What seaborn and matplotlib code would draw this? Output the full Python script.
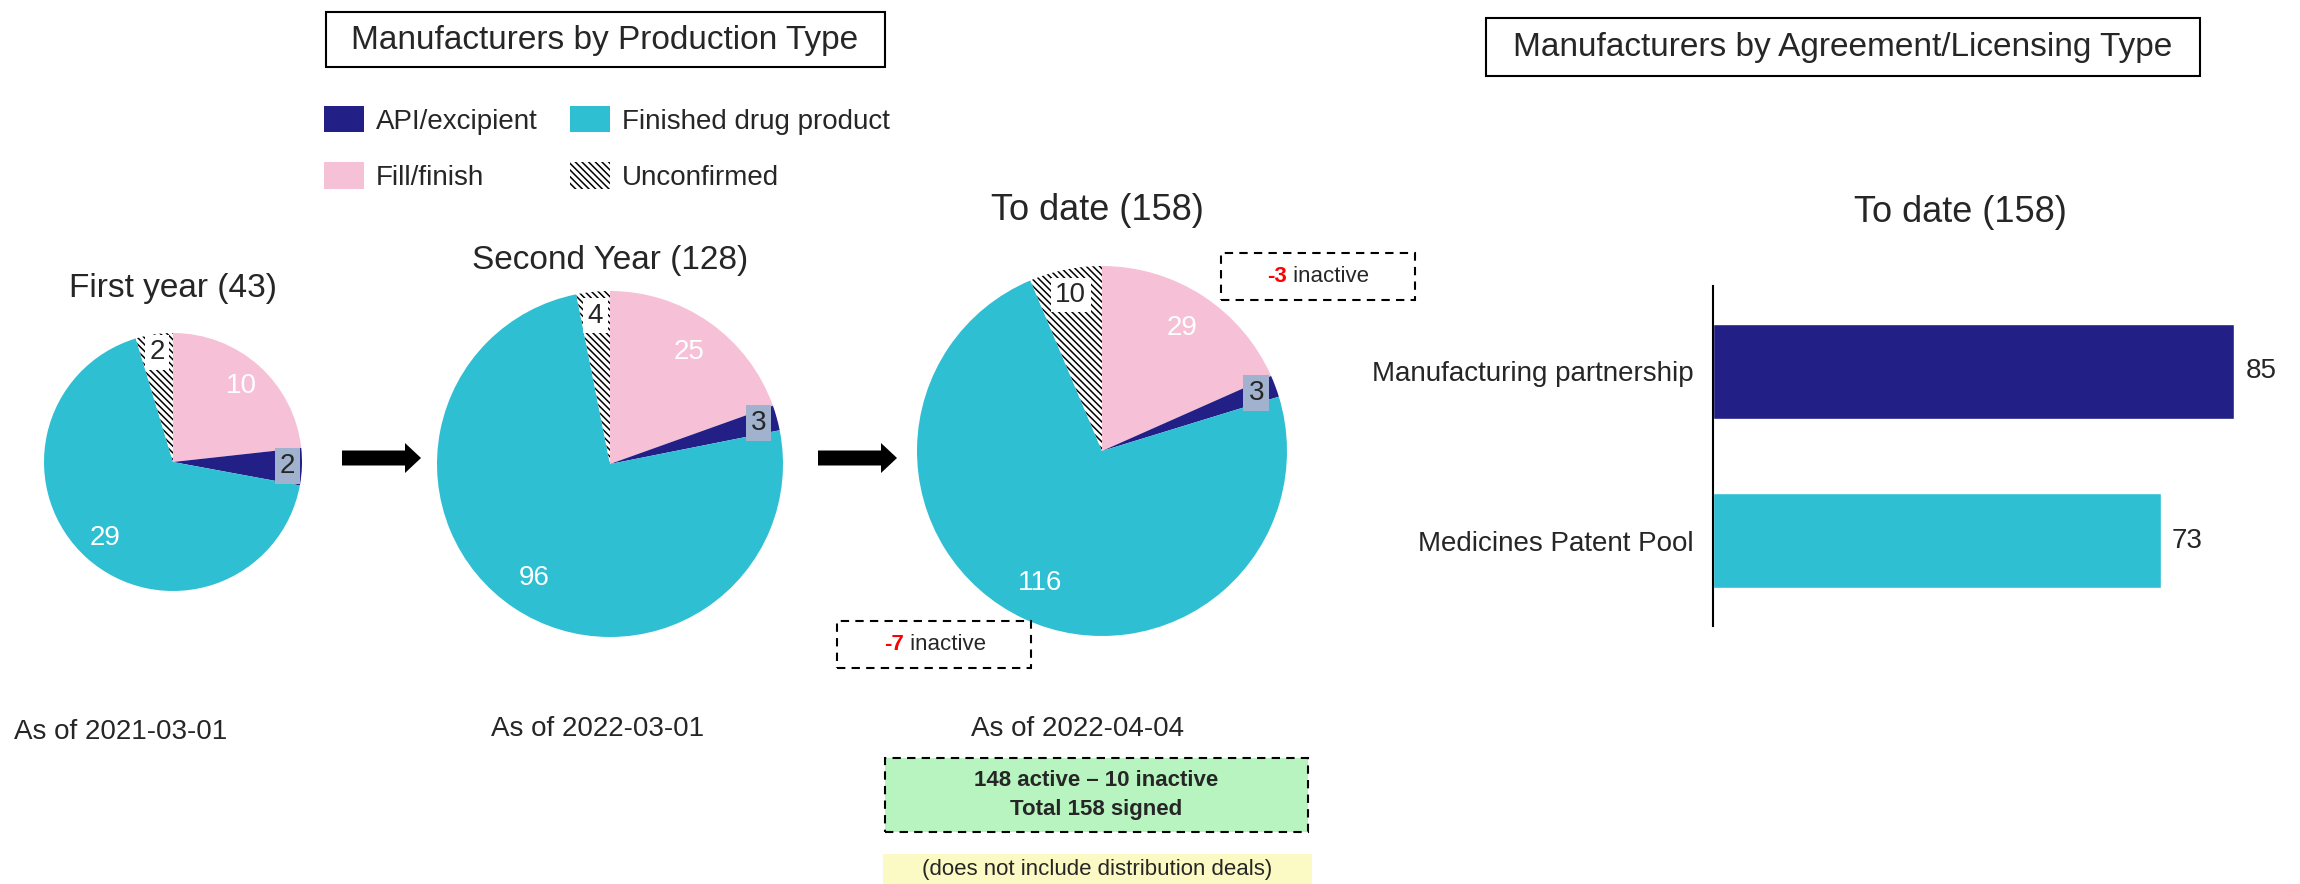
import matplotlib
matplotlib.use("Agg")
import pandas as pd
import matplotlib.pyplot as plt
import seaborn as sns
from matplotlib.patches import Patch, Rectangle, FancyArrow

# ── data ──────────────────────────────────────────
production_types = ["Fill/finish", "API/excipient", "Finished drug product", "Unconfirmed"]
first_year = [10, 2, 29, 2]
second_year = [25, 3, 96, 4]
to_date = [29, 3, 116, 10]
pie_titles = ["First year (43)", "Second Year (128)", "To date (158)"]
as_of_dates = ["As of 2021-03-01", "As of 2022-03-01", "As of 2022-04-04"]

agreement_types = ["Manufacturing partnership", "Medicines Patent Pool"]
agreement_counts = [85, 73]
agreement_title = "To date (158)"

inactive_counts = ["-3", "-7"]
summary_lines = ["148 active \u2013 10 inactive", "Total 158 signed"]
footnote = "(does not include distribution deals)"

NAVY = "#221f87"
CYAN = "#2fbfd3"
PINK = "#f6c1d7"
LABEL_BLUE = "#a0b2ce"
HATCH = "\\" * 5
type_colors = {"Fill/finish": PINK, "API/excipient": NAVY,
               "Finished drug product": CYAN, "Unconfirmed": "white"}

W, H = 2300, 884
sns.set_theme(style="white")
plt.rcParams["font.family"] = ["Liberation Sans", "DejaVu Sans"]
plt.rcParams["hatch.linewidth"] = 1.1
plt.rcParams["hatch.color"] = "black"

fig = plt.figure(figsize=(W / 100, H / 100), dpi=100)
inch = fig.dpi_scale_trans


def px(x, y):
    # pixel position (from top-left) -> inches for dpi_scale_trans
    return x / 100, (H - y) / 100


def ftext(x, y, s, **kw):
    kw.setdefault("ha", "center")
    kw.setdefault("va", "center")
    return fig.text(*px(x, y), s, transform=inch, **kw)


def box(x0, y0, x1, y1, **kw):
    r = Rectangle(px(x0, y1), (x1 - x0) / 100, (y1 - y0) / 100, transform=inch, **kw)
    fig.add_artist(r)
    return r


# ── section titles ─────────────────────────────────
box(326, 12, 885, 67, fill=False, ec="black", lw=1.5)
ftext(605, 40, "Manufacturers by Production Type", fontsize=24)
box(1486, 18, 2200, 76, fill=False, ec="black", lw=1.5)
ftext(1843, 47, "Manufacturers by Agreement/Licensing Type", fontsize=24)

# ── legend ─────────────────────────────────────────
legend_order = ["API/excipient", "Fill/finish", "Finished drug product", "Unconfirmed"]
handles = []
for name in legend_order:
    if name == "Unconfirmed":
        handles.append(Patch(facecolor="white", edgecolor="black", hatch=HATCH, linewidth=0, label=name))
    else:
        handles.append(Patch(facecolor=type_colors[name], linewidth=0, label=name))
fig.legend(handles=handles, ncol=2, loc="upper left", bbox_to_anchor=px(324, 106),
           bbox_transform=inch, frameon=False, fontsize=20, handlelength=1.44,
           handleheight=1.08, handletextpad=0.43, columnspacing=1.15,
           labelspacing=1.0, borderpad=0, borderaxespad=0)

# ── pies ───────────────────────────────────────────
pie_boxes = [(173, 462, 129), (610, 464, 173), (1102, 451, 185)]
title_pos = [(173, 288, 24), (610, 260, 24), (1097, 210, 26)]
date_pos = [(14, 732, "left"), (598, 729, "center"), (1078, 729, "center")]

for vals, (cx, cy, r), (tx, ty, tsize), title, date, (dx, dy, dha) in zip(
        [first_year, second_year, to_date], pie_boxes, title_pos, pie_titles, as_of_dates, date_pos):
    ax = fig.add_axes([(cx - r) / W, (H - cy - r) / H, 2 * r / W, 2 * r / H])
    total = sum(vals)
    wedges, _, autotexts = ax.pie(
        vals, colors=[type_colors[t] for t in production_types], startangle=90,
        counterclock=False, autopct=lambda p, t=total: f"{p * t / 100:.0f}",
        pctdistance=0.79, textprops=dict(fontsize=20), wedgeprops=dict(linewidth=0))
    wedges[3].set_hatch(HATCH)
    wedges[3].set_edgecolor("black")
    for w in wedges:
        w.set_clip_on(False)
    for i, t in enumerate(autotexts):
        x, y = t.get_position()
        if i in (0, 2):
            t.set_color("white")
        elif i == 1:
            t.set_position((x * 0.89 / 0.79, y * 0.89 / 0.79))
            t.set_bbox(dict(boxstyle="square,pad=0.18", fc=LABEL_BLUE, ec="none"))
        else:
            t.set_position((x * 0.86 / 0.79, y * 0.86 / 0.79))
            t.set_bbox(dict(boxstyle="square,pad=0.16", fc="white", ec="none"))
    ax.set_xlim(-1, 1)
    ax.set_ylim(-1, 1)
    ax.axis("off")
    ftext(tx, ty, title, fontsize=tsize)
    ftext(dx, dy, date, fontsize=20, ha=dha)

# arrows between pies
for x0 in (342, 818):
    x, y = px(x0, 458)
    fig.add_artist(FancyArrow(x, y, 0.79, 0, width=0.15, head_width=0.30, head_length=0.16,
                              length_includes_head=True, color="black", lw=0, transform=inch))

# ── inactive notes ────────────────────────────────
for (x0, y0, x1, y1), split, num in zip([(1221, 253, 1415, 300), (837, 621, 1031, 668)],
                                        [1287, 904], inactive_counts):
    box(x0, y0, x1, y1, fill=False, ec="black", lw=1.5, ls=(0, (4, 3)))
    ym = (y0 + y1) / 2
    ftext(split, ym, num, fontsize=16, color="red", fontweight="bold", ha="right")
    ftext(split, ym, " inactive", fontsize=16, ha="left")

box(885, 758, 1308, 832, fc="#b8f4c0", ec="black", lw=1.5, ls=(0, (4, 3)))
ftext(1096, 781, summary_lines[0], fontsize=16, fontweight="bold")
ftext(1096, 810, summary_lines[1], fontsize=16, fontweight="bold")
box(883, 854, 1312, 884, fc="#fbf9c4", ec="none")
ftext(1097, 870, footnote, fontsize=16)

# ── agreement bars ─────────────────────────────────
bar_ax = fig.add_axes([1713 / W, (H - 626) / H, 552 / W, 340 / H])
df = pd.DataFrame({"type": agreement_types, "count": agreement_counts})
sns.barplot(data=df, x="count", y="type", hue="type", palette=[NAVY, CYAN],
            width=0.56, saturation=1, legend=False, ax=bar_ax)
for c in bar_ax.containers:
    bar_ax.bar_label(c, padding=8, fontsize=20)
bar_ax.set_xlim(0, 90)
bar_ax.set_ylim(1.505, -0.505)
bar_ax.set_xlabel("")
bar_ax.set_ylabel("")
bar_ax.set_xticks([])
bar_ax.tick_params(axis="y", length=0, pad=14, labelsize=20)
for side in ("top", "right", "bottom"):
    bar_ax.spines[side].set_visible(False)
bar_ax.spines["left"].set_color("black")
bar_ax.spines["left"].set_linewidth(1.5)
ftext(1960, 212, agreement_title, fontsize=26)

fig.savefig("out.png", dpi=100)
